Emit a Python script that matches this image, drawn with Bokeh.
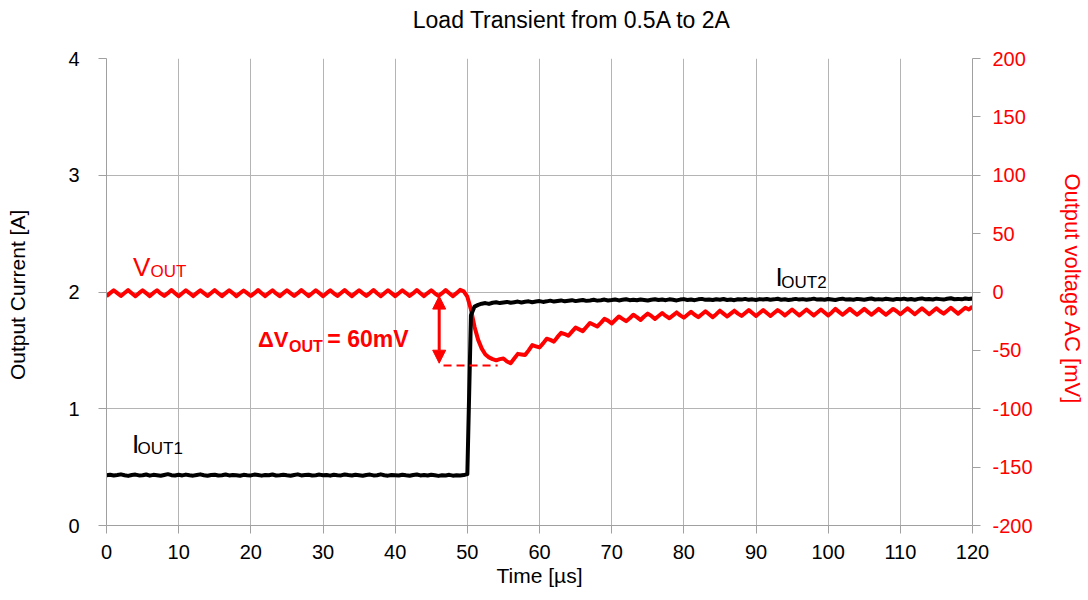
import numpy as np
from bokeh.plotting import figure
from bokeh.layouts import column
from bokeh.models import Range1d, LinearAxis, FixedTicker, Label, Arrow, NormalHead
from bokeh.embed import file_html
from bokeh.resources import INLINE

# ---------------- data ----------------
SAMPLE_US = 0.5
time_us = np.arange(0.0, 120.0 + SAMPLE_US / 2, SAMPLE_US)  # 0 .. 120 us, 241 samples

# output current [A]
i_out = [
    # 0 - 9.5 us
    0.43, 0.435, 0.428, 0.432, 0.438, 0.43, 0.425, 0.433, 0.436, 0.429,
    0.431, 0.437, 0.427, 0.434, 0.43, 0.426, 0.433, 0.44, 0.431, 0.428,
    # 10 - 19.5
    0.434, 0.429, 0.436, 0.43, 0.427, 0.433, 0.438, 0.43, 0.426, 0.432,
    0.435, 0.428, 0.431, 0.437, 0.429, 0.433, 0.43, 0.426, 0.434, 0.431,
    # 20 - 29.5
    0.429, 0.436, 0.432, 0.427, 0.433, 0.43, 0.437, 0.428, 0.431, 0.435,
    0.43, 0.426, 0.433, 0.438, 0.429, 0.432, 0.434, 0.428, 0.431, 0.436,
    # 30 - 39.5
    0.43, 0.433, 0.427, 0.435, 0.431, 0.429, 0.437, 0.432, 0.428, 0.434,
    0.43, 0.426, 0.433, 0.436, 0.429, 0.431, 0.438, 0.43, 0.427, 0.433,
    # 40 - 49.5
    0.431, 0.428, 0.435, 0.43, 0.426, 0.433, 0.437, 0.429, 0.432, 0.428,
    0.434, 0.43, 0.425, 0.431, 0.429, 0.434, 0.427, 0.43, 0.428, 0.432,
    # 50 - 59.5
    0.44, 1.8, 1.875, 1.89, 1.9, 1.905, 1.898, 1.908, 1.912, 1.905,
    1.91, 1.915, 1.908, 1.913, 1.918, 1.91, 1.916, 1.92, 1.912, 1.918,
    # 60 - 69.5
    1.922, 1.915, 1.92, 1.926, 1.918, 1.923, 1.928, 1.92, 1.925, 1.93,
    1.922, 1.927, 1.932, 1.924, 1.928, 1.933, 1.926, 1.93, 1.935, 1.927,
    # 70 - 79.5
    1.931, 1.936, 1.928, 1.933, 1.938, 1.93, 1.934, 1.929, 1.936, 1.932,
    1.927, 1.934, 1.938, 1.931, 1.935, 1.93, 1.937, 1.933, 1.928, 1.935,
    # 80 - 89.5
    1.939, 1.932, 1.936, 1.93, 1.937, 1.941, 1.933, 1.936, 1.931, 1.938,
    1.934, 1.94, 1.932, 1.936, 1.93, 1.938, 1.935, 1.941, 1.933, 1.937,
    # 90 - 99.5
    1.932, 1.939, 1.935, 1.94, 1.933, 1.937, 1.942, 1.934, 1.938, 1.932,
    1.936, 1.941, 1.935, 1.939, 1.933, 1.937, 1.943, 1.935, 1.938, 1.934,
    # 100 - 109.5
    1.94, 1.936, 1.932, 1.939, 1.943, 1.935, 1.938, 1.934, 1.941, 1.937,
    1.933, 1.94, 1.944, 1.936, 1.939, 1.935, 1.942, 1.938, 1.934, 1.941,
    # 110 - 119.5
    1.937, 1.943, 1.936, 1.94, 1.934, 1.941, 1.945, 1.937, 1.94, 1.936,
    1.943, 1.939, 1.935, 1.942, 1.946, 1.938, 1.941, 1.937, 1.944, 1.94,
    # 120
    1.945,
]

# output voltage AC [mV]
v_out_ac = [
    # 0 - 9.5 us
    -3.5, -1.0, 1.5, -1.0, -3.4, -0.9, 1.6, -1.1, -3.6, -1.0,
    1.4, -1.0, -3.5, -0.8, 1.5, -1.2, -3.3, -1.0, 1.7, -1.0,
    # 10 - 19.5
    -3.6, -1.1, 1.5, -0.9, -3.5, -1.0, 1.4, -1.0, -3.4, -0.9,
    1.6, -1.1, -3.5, -1.0, 1.5, -0.9, -3.6, -1.1, 1.3, -1.0,
    # 20 - 29.5
    -3.4, -1.0, 1.6, -1.0, -3.5, -0.9, 1.5, -1.2, -3.6, -1.0,
    1.4, -1.0, -3.4, -1.0, 1.6, -0.9, -3.5, -1.1, 1.5, -1.0,
    # 30 - 39.5
    -3.6, -1.0, 1.4, -1.1, -3.4, -0.9, 1.6, -1.0, -3.5, -1.0,
    1.5, -1.0, -3.3, -0.9, 1.7, -1.1, -3.6, -1.0, 1.5, -1.0,
    # 40 - 49.5
    -3.5, -1.1, 1.4, -0.9, -3.4, -1.0, 1.6, -1.0, -3.5, -0.9,
    1.5, -1.1, -3.4, -1.0, 1.6, -1.0, -3.5, -1.0, 1.8, 0.5,
    # 50 - 59.5
    -4.0, -15.0, -30.0, -41.0, -48.5, -53.5, -56.0, -57.5, -58.5, -57.5,
    -57.0, -59.5, -61.0, -57.0, -53.0, -53.5, -54.0, -50.0, -45.5, -46.5,
    # 60 - 69.5
    -47.5, -44.0, -40.0, -41.0, -42.5, -38.5, -35.0, -36.0, -37.5, -34.0,
    -30.5, -32.0, -33.5, -30.0, -26.5, -28.0, -29.5, -26.5, -23.0, -24.5,
    # 70 - 79.5
    -27.0, -24.0, -21.0, -23.0, -25.0, -22.5, -19.5, -21.5, -24.0, -21.0,
    -18.5, -20.5, -23.0, -20.5, -18.0, -20.5, -22.5, -20.0, -17.5, -20.0,
    # 80 - 89.5
    -22.0, -19.5, -17.0, -19.5, -21.5, -19.0, -16.5, -19.0, -21.5, -19.0,
    -16.0, -18.5, -21.0, -18.5, -16.0, -18.5, -20.5, -18.0, -15.5, -18.0,
    # 90 - 99.5
    -20.5, -18.0, -15.5, -18.0, -20.5, -18.0, -15.5, -17.5, -20.0, -17.5,
    -15.0, -17.5, -20.0, -17.5, -15.0, -17.5, -20.0, -17.5, -15.0, -17.5,
    # 100 - 109.5
    -20.0, -17.5, -14.5, -17.0, -19.5, -17.0, -14.5, -17.0, -19.5, -17.0,
    -14.5, -17.0, -19.5, -17.0, -14.5, -17.0, -19.5, -17.0, -14.5, -16.5,
    # 110 - 119.5
    -19.0, -16.5, -14.0, -16.5, -19.0, -16.5, -14.0, -16.5, -19.0, -16.5,
    -14.0, -16.5, -18.5, -16.0, -13.5, -16.0, -18.5, -16.0, -13.5, -15.0,
    # 120
    -12.5,
]

x_ticks = [0, 10, 20, 30, 40, 50, 60, 70, 80, 90, 100, 110, 120]
i_ticks = [0, 1, 2, 3, 4]
v_ticks = [-200, -150, -100, -50, 0, 50, 100, 150, 200]
v_tick_labels = ["-200", "-150", "-100", "-50", "0", "50", "100", "150", "200"]

# annotation of the undershoot
dv_label = "= 60mV"
dv_arrow_t = 46.1
dv_top_mv, dv_bottom_mv = -3.5, -61.0
dv_dash_mv = -63.0
dv_dash_t = (46.7, 54.2)

FONT = "Liberation Sans"
RED = "#ff0000"
GRID = "#b4b4b4"
AXIS = "#a0a0a0"
W = 1088
TITLE_H = 40

# ---------------- title strip ----------------
t = figure(width=W, height=TITLE_H, x_range=Range1d(0, W), y_range=Range1d(0, TITLE_H),
           x_axis_type=None, y_axis_type=None, output_backend="svg",
           toolbar_location=None, min_border=0)
t.min_border_left = t.min_border_right = t.min_border_top = t.min_border_bottom = 0
t.outline_line_color = None
t.grid.visible = False
t.add_layout(Label(x=585, y=TITLE_H - 19, text="Load Transient from 0.5A to 2A",
                   text_font=FONT, text_font_size="23px", text_color="#000000",
                   text_align="center", text_baseline="alphabetic"))

# ---------------- main figure ----------------
p = figure(
    width=W, height=600 - TITLE_H,
    x_range=Range1d(0, 120), y_range=Range1d(0, 4),
    output_backend="svg", toolbar_location=None,
    min_border_left=106, min_border_right=116,
    min_border_top=58 - TITLE_H, min_border_bottom=75,
)
p.extra_y_ranges = {"mv": Range1d(-200, 200)}
p.outline_line_color = None
p.background_fill_color = "white"
p.border_fill_color = "white"

bottom = p.xaxis[0]
left = p.yaxis[0]
bottom.ticker = FixedTicker(ticks=x_ticks)
left.ticker = FixedTicker(ticks=i_ticks)
right = LinearAxis(y_range_name="mv", ticker=FixedTicker(ticks=v_ticks))
right.major_label_overrides = {v: s for v, s in zip(v_ticks, v_tick_labels)}
p.add_layout(right, "right")

for ax in (bottom, left, right):
    ax.axis_line_color = AXIS
    ax.axis_line_width = 1
    ax.major_tick_line_color = AXIS
    ax.major_tick_out = 8
    ax.major_tick_in = 0
    ax.minor_tick_line_color = None
    ax.major_label_text_font = FONT
    ax.major_label_text_font_size = "20px"
    ax.major_label_text_color = "#000000"
    ax.axis_label_text_font = FONT
    ax.axis_label_text_font_size = "21px"
    ax.axis_label_text_font_style = "normal"
    ax.axis_label_text_color = "#000000"

bottom.major_label_standoff = 11
bottom.axis_label = "Time [µs]"
bottom.axis_label_standoff = 2

left.major_label_standoff = 19
left.axis_label = "Output Current  [A]"
left.axis_label_standoff = 36

right.major_label_standoff = 12
right.major_label_text_color = RED
right.axis_label = "Output voltage AC  [mV]"
right.axis_label_text_color = RED
right.axis_label_text_font_size = "22px"
right.axis_label_standoff = 24

p.xgrid.grid_line_color = GRID
p.ygrid.grid_line_color = GRID
p.xgrid.grid_line_width = 1
p.ygrid.grid_line_width = 1

# ---------------- data lines ----------------
p.line(time_us, v_out_ac, y_range_name="mv", line_color=RED, line_width=4,
       line_join="round")
p.line(time_us, i_out, line_color="#000000", line_width=4, line_join="round")


# ---------------- texts ----------------
def lab(x, y, text, size, color="#000000", style="normal"):
    p.add_layout(Label(x=x, y=y, text=text, text_font=FONT, text_font_size=size,
                       text_color=color, text_font_style=style, text_align="left",
                       text_baseline="alphabetic"))


lab(3.67, 2.21, "V", "26px", color=RED)
lab(6.1, 2.176, "OUT", "17px", color=RED)
lab(3.54, 0.694, "I", "26px")
lab(4.30, 0.66, "OUT1", "17px")
lab(92.69, 2.125, "I", "26px")
lab(93.5, 2.082, "OUT2", "17px")

lab(21.0, 1.594, "ΔV", "22px", color=RED, style="bold")
lab(25.3, 1.534, "OUT", "16px", color=RED, style="bold")
lab(30.6, 1.594, dv_label, "23px", color=RED, style="bold")

p.add_layout(Arrow(
    start=NormalHead(size=13, fill_color=RED, line_color=RED, line_width=1),
    end=NormalHead(size=13, fill_color=RED, line_color=RED, line_width=1),
    x_start=dv_arrow_t, y_start=dv_top_mv, x_end=dv_arrow_t, y_end=dv_bottom_mv,
    line_color=RED, line_width=3, y_range_name="mv"))
p.add_layout(Arrow(
    start=None, end=None,
    x_start=dv_dash_t[0], y_start=dv_dash_mv, x_end=dv_dash_t[1], y_end=dv_dash_mv,
    line_color=RED, line_width=2, line_dash="8 5", y_range_name="mv"))

layout = column(t, p, spacing=0)
open("out.html", "w").write(file_html(layout, INLINE))
